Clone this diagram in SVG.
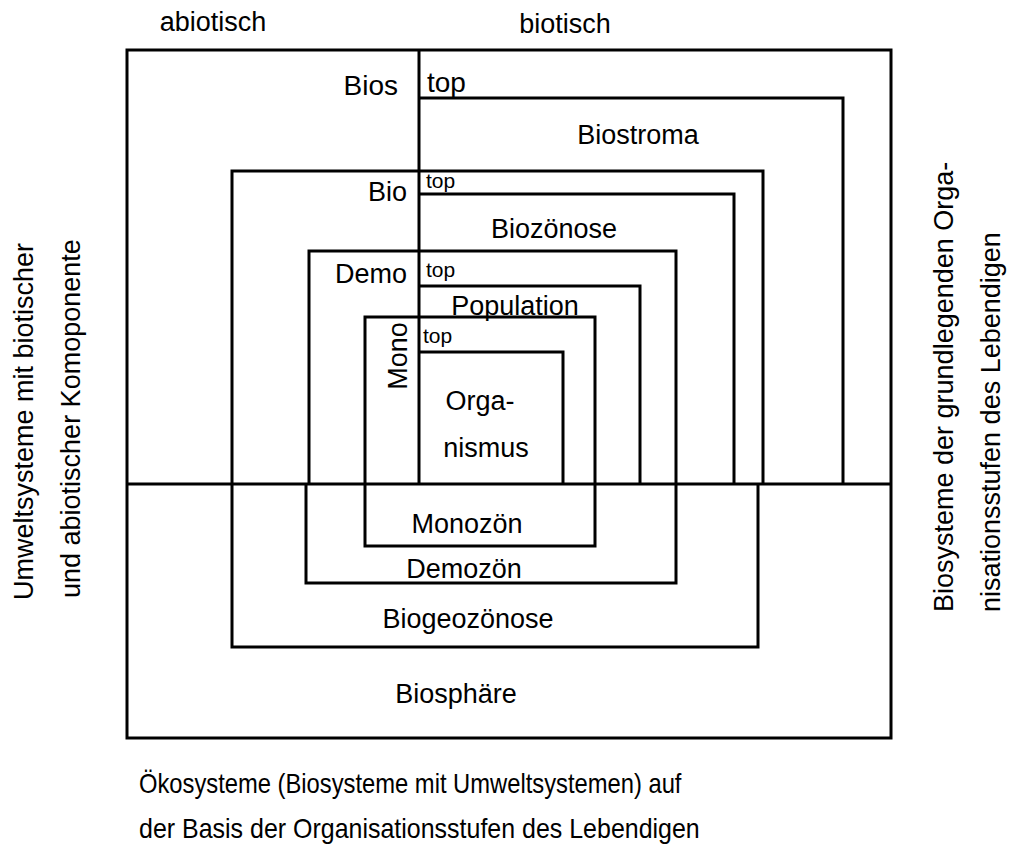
<svg xmlns="http://www.w3.org/2000/svg" width="1012" height="847" viewBox="0 0 1012 847">
<style>
.ln{fill:none;stroke:#000;stroke-width:3}
text{font-family:"Liberation Sans",Arial,sans-serif;fill:#000;font-size:27px}
.m{text-anchor:middle}
.e{text-anchor:end}
.s{font-size:21px}
.b{font-size:28px}
</style>
<rect width="1012" height="847" fill="#fff"/>
<g id="connectors">
<rect class="ln" x="127" y="50" width="764" height="688"/>
<path class="ln" d="M419,50 V484"/>
<path class="ln" d="M127,484 H891"/>
</g>
<g id="biostroma"><path class="ln" d="M419,98 H843 V484"/><text class="m" x="638" y="144">Biostroma</text></g>
<g id="bio"><path class="ln" d="M232,484 V171 H763 V484"/><text class="e" x="407" y="201">Bio</text><text class="s" x="426" y="188">top</text></g>
<g id="biozoenose"><path class="ln" d="M419,194 H734 V484"/><text class="m" x="554" y="238">Biozönose</text></g>
<g id="demo"><path class="ln" d="M309,484 V251 H676 V484"/><text class="e" x="407" y="283">Demo</text><text class="s" x="426" y="277">top</text></g>
<g id="population"><path class="ln" d="M419,286 H640 V484"/><text class="m" x="515" y="315">Population</text></g>
<g id="mono"><path class="ln" d="M365,484 V317 H595 V484"/><text class="m" transform="translate(407,356) rotate(-90)">Mono</text><text class="s" x="423" y="343">top</text></g>
<g id="organismus"><path class="ln" d="M419,352 H563 V484"/><text class="m" x="480" y="410">Orga-</text><text class="m" x="486" y="457">nismus</text></g>
<g id="monozoen"><path class="ln" d="M365,484 V546 H595 V484"/><text class="m" x="467" y="533">Monozön</text></g>
<g id="demozoen"><path class="ln" d="M306,484 V583 H676 V484"/><text class="m" x="464" y="578">Demozön</text></g>
<g id="biogeozoenose"><path class="ln" d="M232,484 V647 H758 V484"/><text class="m" x="468" y="628">Biogeozönose</text></g>
<g id="biosphaere"><text class="m" x="456" y="703">Biosphäre</text></g>
<g id="bios"><text class="e b" x="398" y="95">Bios</text><text class="b" x="427" y="92">top</text></g>
<g id="labels">
<text class="m" x="213" y="31">abiotisch</text>
<text class="m" x="565" y="33">biotisch</text>
<text transform="translate(33,600) rotate(-90)">Umweltsysteme mit biotischer</text>
<text transform="translate(80,598) rotate(-90)">und abiotischer Komoponente</text>
<text transform="translate(953,612) rotate(-90)">Biosysteme der grundlegenden Orga-</text>
<text transform="translate(1000,612) rotate(-90)">nisationsstufen des Lebendigen</text>
<text transform="translate(139,793) scale(0.88,1)">Ökosysteme (Biosysteme mit Umweltsystemen) auf</text>
<text transform="translate(139,838) scale(0.925,1)">der Basis der Organisationsstufen des Lebendigen</text>
</g>
</svg>
